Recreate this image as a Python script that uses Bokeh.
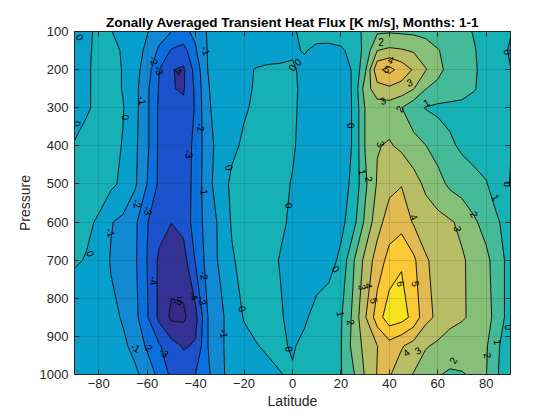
import numpy as np
from bokeh.plotting import figure
from bokeh.models import Range1d, LinearAxis, FixedTicker
from bokeh.core.properties import value
from bokeh.embed import file_html
from bokeh.resources import INLINE

# ---------------- data ----------------
lats = [-90, -85, -80, -75, -70, -65, -60, -55, -50, -45, -40, -35, -30, -25, -20, -15, -10, -5, 0,
        5, 10, 15, 20, 25, 30, 35, 40, 45, 50, 55, 60, 65, 70, 75, 80, 85, 90]
pressures = [100, 150, 200, 250, 300, 400, 500, 600, 700, 850, 925, 1000]

flux_p100 = [-0.4, -0.2, 0.2, 0.05, -0.4, -0.7, -0.95, -1.5, -2.0, -2.2, -1.8, -0.9, -0.6, -0.5, -0.45, -0.4, -0.35, -0.25, -0.1,
             0.2, 0.35, 0.4, 0.5, 0.7, 1.15, 1.85, 1.9, 1.85, 1.8, 1.7, 1.6, 1.4, 1.2, 0.95, 0.6, 0.3, 0.05]
flux_p150 = [-0.3, -0.1, 0.15, 0.3, -0.1, -0.6, -1.2, -2.2, -3.1, -3.4, -2.1, -0.95, -0.7, -0.6, -0.5, -0.45, -0.4, -0.3, -0.1,
             0.05, -0.2, -0.25, -0.15, 0.3, 1.3, 3.0, 3.2, 3.1, 2.9, 2.5, 2.05, 1.7, 1.4, 1.05, 0.7, 0.3, -0.1]
flux_p200 = [-0.3, -0.1, 0.2, 0.35, -0.05, -0.65, -1.5, -3.0, -3.95, -4.15, -2.6, -1.0, -0.65, -0.45, -0.2, 0.05, 0.15, 0.15, 0.1,
             -0.2, -0.35, -0.35, -0.25, 0.05, 1.8, 4.8, 5.3, 4.6, 3.9, 3.05, 2.25, 1.7, 1.4, 1.1, 0.7, 0.3, 0.02]
flux_p250 = [-0.3, -0.1, 0.2, 0.35, -0.05, -0.7, -1.8, -3.1, -3.95, -4.1, -2.8, -1.05, -0.7, -0.5, -0.2, 0.1, 0.2, 0.2, 0.15,
             -0.2, -0.4, -0.45, -0.3, 0.05, 2.5, 3.6, 3.8, 3.6, 3.05, 2.02, 1.75, 1.55, 1.35, 1.05, 0.7, 0.35, 0.05]
flux_p300 = [-0.3, -0.1, 0.2, 0.4, 0.05, -0.7, -1.8, -3.2, -3.7, -3.8, -2.9, -1.1, -0.7, -0.5, -0.1, 0.15, 0.25, 0.25, 0.15,
             -0.25, -0.45, -0.5, -0.35, 0.05, 2.05, 2.5, 2.5, 2.02, 1.3, 0.95, 0.8, 0.75, 0.75, 0.7, 0.55, 0.3, 0.05]
flux_p400 = [0.05, 0.3, 0.4, 0.3, -0.05, -0.8, -1.8, -3.2, -3.6, -3.6, -2.7, -1.4, -0.6, -0.2, 0.15, 0.25, 0.3, 0.25, 0.1,
             -0.3, -0.5, -0.5, -0.35, 0.05, 2.05, 2.95, 3.1, 2.8, 2.4, 2.02, 1.6, 1.15, 0.85, 0.7, 0.55, 0.3, 0.05]
flux_p500 = [0.15, 0.3, 0.35, 0.2, -0.2, -0.85, -2.02, -3.2, -3.5, -3.5, -2.7, -1.3, -0.5, 0.2, 0.3, 0.35, 0.35, 0.2, -0.05,
             -0.35, -0.5, -0.5, -0.3, 0.15, 1.8, 3.1, 3.7, 3.95, 3.4, 2.8, 2.35, 1.8, 1.5, 1.25, 1.05, 0.5, -0.05]
flux_p600 = [0.3, 0.15, -0.1, -0.95, -1.2, -1.8, -2.95, -3.6, -3.98, -3.7, -2.5, -1.6, -0.8, 0.1, 0.35, 0.4, 0.35, 0.15, -0.15,
             -0.4, -0.5, -0.5, -0.3, 0.6, 2.2, 3.6, 4.5, 4.6, 3.9, 3.5, 3.3, 3.1, 2.8, 2.15, 1.6, 1.05, 0.6]
flux_p700 = [0.1, -0.05, -0.5, -1.05, -1.3, -1.85, -3.02, -4.2, -4.6, -4.4, -2.9, -1.6, -0.85, -0.1, 0.3, 0.4, 0.25, -0.05, -0.35,
             -0.5, -0.55, -0.45, 0.25, 1.85, 3.3, 4.45, 5.35, 5.9, 5.2, 4.1, 3.7, 3.4, 3.1, 2.75, 2.25, 1.4, 0.6]
flux_p850 = [-0.6, -0.65, -0.75, -0.85, -1.05, -1.7, -2.9, -4.25, -5.2, -5.2, -4.3, -2.02, -1.3, -0.45, 0.05, 0.3, 0.35, 0.1, -0.3,
             -0.15, 0.35, 0.7, 0.9, 2.2, 3.9, 5.5, 6.6, 6.4, 5.7, 4.3, 3.8, 3.4, 3.1, 2.8, 2.4, 1.5, 0.5]
flux_p925 = [-0.6, -0.6, -0.65, -0.75, -0.9, -1.15, -2.2, -2.9, -3.6, -4.1, -3.9, -2.02, -1.2, -0.6, -0.25, -0.05, 0.15, 0.15, -0.1,
             0.25, 0.5, 0.7, 0.95, 2.3, 3.3, 3.98, 4.6, 4.1, 3.6, 3.1, 2.8, 2.4, 2.4, 2.3, 2.1, 1.1, 0.1]
flux_p1000 = [-0.6, -0.6, -0.6, -0.65, -0.75, -0.9, -1.2, -2.4, -3.2, -3.4, -2.98, -2.2, -1.2, -0.7, -0.45, -0.35, -0.25, -0.02, 0.1,
              0.3, 0.5, 0.7, 0.95, 1.85, 3.1, 4.05, 4.1, 3.4, 2.95, 2.3, 2.05, 1.9, 1.95, 2.1, 2.02, 1.0, 0.3]

contour_levels = [-5, -4, -3, -2, -1, 0, 1, 2, 3, 4, 5, 6]
x_ticks = [-80, -60, -40, -20, 0, 20, 40, 60, 80]
y_ticks = [100, 200, 300, 400, 500, 600, 700, 800, 900, 1000]

# inline contour labels: latitude, pressure, text, rotation (deg)
label_lat = [-87.7, -57.1, -55.0, -61.9, -68.8, -88.8, -47.4, -35.7, -37.8, -42.6, -26.0, -36.4,
             -64.0, -59.6, -75.0, -83.3, -57.1, -47.4, -40.6, -37.1, -36.4, -20.6, -28.2, -64.7, -59.6, -53.0,
             -1.3, -1.3, 18.0, 24.2, 20.0, 24.2, -0.2, 2.1,
             36.6, 40.7, 39.0, 48.3, 37.3, 44.1, 55.2, 36.6, 29.0, 31.7, 88.9, 88.9, 84.0,
             75.1, 50.3, 68.3, 44.8, 51.0, 29.0, 31.7, 33.8, 89.3, 84.8, 80.7, 46.9, 51.7, 66.2]
label_p = [115, 176, 202, 281, 325, 342, 202, 150, 351, 421, 457, 517,
           552, 570, 627, 683, 754, 806, 793, 806, 740, 828, 893, 929, 927, 942,
           557, 933, 723, 347, 841, 863, 195, 180,
           128, 174, 198, 233, 281, 303, 286, 395, 469, 487, 154, 500, 535,
           579, 587, 618, 762, 762, 771, 767, 806, 876, 915, 950, 942, 937, 963]
label_txt = ["0", "-2", "-3", "-1", "0", "0", "-4", "-1", "-2", "-3", "0", "-1",
             "-2", "-3", "-1", "0", "-4", "-5", "-4", "-3", "-2", "0", "-1", "-1", "-2", "-3",
             "0", "0", "0", "0", "1", "2", "0", "0",
             "2", "4", "5", "3", "3", "2", "1", "3", "1", "2", "0", "0", "1",
             "2", "4", "3", "6", "5", "3", "4", "5", "0", "1", "2", "4", "3", "2"]
label_angle = [-60, -70, -70, -80, -80, -80, -30, -70, -80, -80, -70, -80,
               -80, -80, -70, -75, -85, 0, -70, -80, -80, -75, -80, -30, -45, -45,
               -80, -80, -55, -80, -80, -80, 60, 40,
               0, -20, -20, 20, 20, 60, 30, -75, -80, -80, -80, -80, -60,
               -60, -65, -80, -80, -80, -80, -80, -75, -80, -80, -80, 40, 30, 60]

# ---------------- styling helpers ----------------
PARULA = [(0.2081, 0.1663, 0.5292), (0.1959, 0.2645, 0.7279), (0.0117, 0.3875, 0.8820),
          (0.0498, 0.4586, 0.8641), (0.0793, 0.5200, 0.8312), (0.0343, 0.5966, 0.8199),
          (0.0228, 0.6535, 0.7768), (0.0843, 0.6928, 0.7062), (0.2178, 0.7250, 0.6193),
          (0.3953, 0.7459, 0.5244), (0.5709, 0.7485, 0.4494), (0.7184, 0.7411, 0.3905),
          (0.8507, 0.7299, 0.3360), (0.9739, 0.7314, 0.2666), (0.9880, 0.8066, 0.1794),
          (0.9589, 0.8949, 0.1132), (0.9763, 0.9831, 0.0538)]
PARULA_POS = [0, 4, 8, 12, 16, 20, 24, 28, 32, 36, 40, 44, 48, 52, 56, 60, 63]


def parula_hex(v, vmin, vmax):
    idx = int(np.floor((v - vmin) / (vmax - vmin) * 64))
    idx = min(max(idx, 0), 63)
    rgb = [np.interp(idx, PARULA_POS, [c[k] for c in PARULA]) for k in range(3)]
    return "#%02x%02x%02x" % tuple(int(round(255 * c)) for c in rgb)


Z = np.array([flux_p100, flux_p150, flux_p200, flux_p250, flux_p300, flux_p400,
              flux_p500, flux_p600, flux_p700, flux_p850, flux_p925, flux_p1000])
X, Y = np.meshgrid(np.array(lats, dtype=float), np.array(pressures, dtype=float))
zmin, zmax = float(Z.min()), float(Z.max())
levels = [zmin - 1e-6] + [float(v) for v in contour_levels] + [zmax + 1e-6]
band_values = [zmin] + contour_levels
fill_colors = [parula_hex(v, zmin, zmax) for v in band_values]

AX = "#262626"
FONT = "Liberation Sans"

p = figure(width=560, height=420, x_range=Range1d(-90, 90), y_range=Range1d(1000, 100),
           output_backend="svg", toolbar_location=None,
           min_border_left=74, min_border_right=50, min_border_top=31, min_border_bottom=46)

p.contour(X, Y, Z, levels, fill_color=fill_colors, line_color="black", line_width=0.9)

p.text(x=label_lat, y=label_p, text=label_txt, angle=np.radians(label_angle).tolist(),
       text_align="center", text_baseline="middle", text_font_size="10px",
       text_font=value(FONT), text_color="black")

p.title.text = "Zonally Averaged Transient Heat Flux [K m/s], Months: 1-1"
p.title.align = "center"
p.title.text_font = FONT
p.title.text_font_size = "13.5px"
p.title.text_font_style = "bold"
p.title.text_color = "black"
p.title.standoff = 3

for ax, ticks in ((p.xaxis[0], x_ticks), (p.yaxis[0], y_ticks)):
    ax.ticker = FixedTicker(ticks=ticks)
    ax.major_tick_in = 5
    ax.major_tick_out = 0
    ax.minor_tick_in = 0
    ax.minor_tick_out = 0
    ax.axis_line_color = AX
    ax.major_tick_line_color = AX
    ax.major_label_text_color = AX
    ax.major_label_text_font = FONT
    ax.major_label_text_font_size = "13px"
    ax.axis_label_text_font = FONT
    ax.axis_label_text_font_size = "14px"
    ax.axis_label_text_font_style = "normal"
    ax.axis_label_text_color = AX

p.xaxis.axis_label = "Latitude"
p.yaxis.axis_label = "Pressure"
p.xaxis.major_label_standoff = 4
p.xaxis.axis_label_standoff = 2
p.yaxis.major_label_standoff = 6
p.yaxis.axis_label_standoff = 4

top = LinearAxis(ticker=FixedTicker(ticks=x_ticks),
                 major_label_overrides={t: "" for t in x_ticks},
                 major_tick_in=5, major_tick_out=0, minor_tick_in=0, minor_tick_out=0,
                 major_label_standoff=0, axis_line_color=AX, major_tick_line_color=AX)
right = LinearAxis(ticker=FixedTicker(ticks=y_ticks),
                   major_label_overrides={t: "" for t in y_ticks},
                   major_tick_in=5, major_tick_out=0, minor_tick_in=0, minor_tick_out=0,
                   major_label_standoff=0, axis_line_color=AX, major_tick_line_color=AX)
p.add_layout(top, "above")
p.add_layout(right, "right")

p.xgrid.ticker = FixedTicker(ticks=x_ticks)
p.ygrid.ticker = FixedTicker(ticks=y_ticks)
for g in (p.xgrid[0], p.ygrid[0]):
    g.grid_line_color = AX
    g.grid_line_alpha = 0.15
    g.level = "annotation"

p.outline_line_color = AX
p.background_fill_color = "white"
p.border_fill_color = "white"

open("out.html", "w").write(file_html(p, INLINE))
